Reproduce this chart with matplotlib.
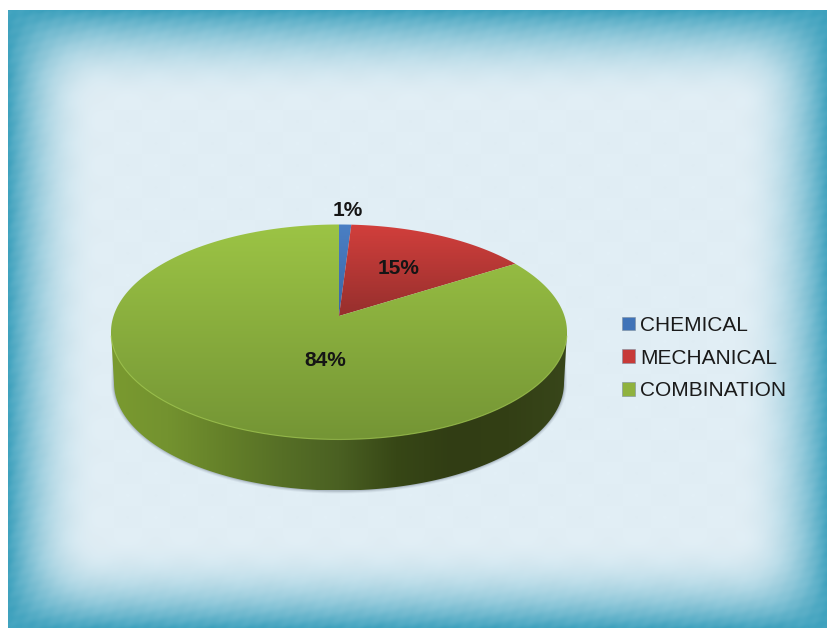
import numpy as np
import matplotlib
matplotlib.use("Agg")
from matplotlib import pyplot as plt
from matplotlib.colors import LinearSegmentedColormap
from matplotlib.patches import Patch, Polygon

labels = ["CHEMICAL", "MECHANICAL", "COMBINATION"]
values = [1, 15, 84]
label_text = ["1%", "15%", "84%"]

# top colours of each slice, light to dark going down the slice
top_colors = [("#4a7fc4", "#3a66a6"), ("#d23f3c", "#962f2d"), ("#9cc445", "#749535")]
legend_colors = ["#3f73b8", "#c73a38", "#8fb23e"]

plt.rcParams["font.family"] = ["Liberation Sans", "DejaVu Sans"]

W, H = 828, 628
fig = plt.figure(figsize=(W / 100, H / 100), dpi=100)
ax = fig.add_axes([0, 0, 1, 1])


def soft(d):
    d = np.clip(d, 0, 1)
    return 1 - (1 - d) ** 2.2


# background, teal border fading to a pale centre
x0, y0 = 8, 10
yy, xx = np.mgrid[y0:H, x0:W]
dx = np.minimum(xx - x0, W - xx) / 95.0
dy = np.minimum(yy - y0, H - yy) / 95.0
glow = soft(dx) * soft(dy)
ripple = 0.03 * np.sin(xx / 3.1 + yy / 2.3) * np.sin(yy / 4.7 - xx / 6.1) * (1 - glow)
mottle = 0.004 * np.sin(xx / 9.0) * np.sin(yy / 7.0)
glow = np.clip(glow + ripple, 0, 1)
edge = np.array([0x3f, 0xa2, 0xbe]) / 255
mid = np.array([0xe1, 0xee, 0xf5]) / 255
bg = edge + (mid - edge) * glow[..., None] + mottle[..., None]
ax.imshow(np.clip(bg, 0, 1), extent=[x0, W, H, y0], aspect="auto", zorder=0)
ax.set_xlim(0, W)
ax.set_ylim(H, 0)
ax.axis("off")

# pie geometry in pixels, perspective view of a circle
cx, cy = 339, 332
a, b = 228, 107.5
depth = 51
lift = 16.0  # apex sits this far above the ellipse centre
k = lift / b


def project(theta):
    # theta clockwise from 12 o'clock
    u, v = np.sin(theta), np.cos(theta)
    w = 1 + k * v
    return cx + a * np.sqrt(1 - k ** 2) * u / w, cy - (b * v + lift) / w


def gradient(extent, cols, vertical=True, z=2, clip=None):
    cmap = LinearSegmentedColormap.from_list("g", cols)
    ramp = np.linspace(0, 1, 256)
    arr = ramp[:, None] if vertical else ramp[None, :]
    im = ax.imshow(arr, cmap=cmap, extent=extent, aspect="auto", origin="upper", zorder=z)
    if clip is not None:
        im.set_clip_path(clip)
    return im


# side wall outline, lower half of the ellipse pushed down
t = np.linspace(-np.pi / 2, np.pi / 2, 300)
wall_x = cx + (a - 3) * np.sin(t)
wall_y = cy + depth + b * np.cos(t)

# soft shadow under the side wall
for grow, alpha in [(3, 0.07), (2, 0.10), (1, 0.16)]:
    ax.fill(np.r_[cx - a + 2, wall_x + grow * np.sin(t), cx + a - 2],
            np.r_[cy, wall_y + grow * np.cos(t), cy],
            color="#39465a", alpha=alpha, lw=0, zorder=1)

side = Polygon(np.c_[np.r_[cx - a, wall_x, cx + a], np.r_[cy, wall_y, cy]], closed=True,
               fc="none", ec="none")
ax.add_patch(side)
gradient([cx - a, cx + a, cy + depth + b, cy],
         ["#7a9a30", "#73922f", "#648029", "#566f26", "#4a6022", "#374716", "#313d14", "#333f15", "#38461a"],
         vertical=False, clip=side)

# top face, slices from the values
fractions = np.array(values, dtype=float) / sum(values)
edges = np.r_[0, np.cumsum(fractions)] * 2 * np.pi
apex_x, apex_y = cx, cy - lift
for i in range(len(values)):
    th = np.linspace(edges[i], edges[i + 1], 300)
    px, py = project(th)
    poly = Polygon(np.c_[np.r_[apex_x, px], np.r_[apex_y, py]], closed=True, fc="none", ec="none")
    ax.add_patch(poly)
    ymax = max(py.max(), apex_y)
    gradient([cx - a, cx + a, ymax, cy - b], list(top_colors[i]), z=3, clip=poly)

# thin highlight on the front rim
th = np.linspace(np.pi * 0.56, np.pi * 1.44, 300)
rx, ry = project(th)
ax.plot(rx, ry, color="#a6cc55", lw=0.8, alpha=0.7, zorder=4)

# data labels
label_pos = [(348, 210), (399, 269), (325, 360)]
for s, (lx, ly) in zip(label_text, label_pos):
    ax.text(lx, ly, s, ha="center", va="center", fontsize=15, fontweight="bold",
            color="#151515", zorder=6)

handles = [Patch(facecolor=c, edgecolor="#7f8f9f", linewidth=0.4) for c in legend_colors]
ax.legend(handles, labels, loc="center left", bbox_to_anchor=(622 / W, 1 - 358 / H),
          frameon=False, fontsize=15, handlelength=0.62, handleheight=0.62,
          handletextpad=0.24, labelspacing=0.66, borderpad=0, borderaxespad=0,
          labelcolor="#1a1a1a")

fig.savefig("out.png", dpi=100, facecolor="white")
